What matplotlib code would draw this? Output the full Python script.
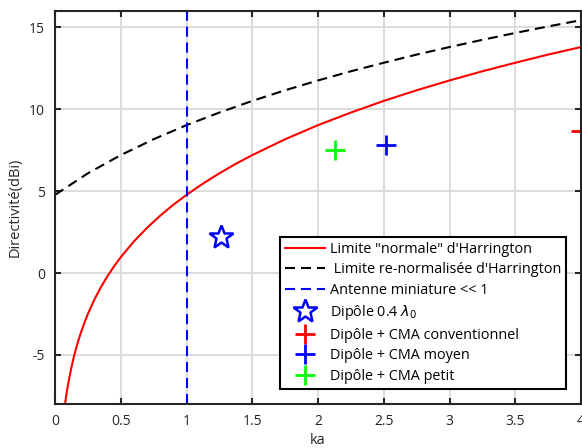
import numpy as np
import matplotlib
matplotlib.use('Agg')
import matplotlib.pyplot as plt

plt.rcParams['font.family'] = ['Open Sans', 'DejaVu Sans']
plt.rcParams['lines.scale_dashes'] = False
plt.rcParams['axes.unicode_minus'] = False

# Harrington "normal" limit
ka_norm = [0.075, 0.09, 0.1, 0.115, 0.125, 0.14, 0.15, 0.175, 0.2, 0.225, 0.25,
           0.3, 0.35, 0.4, 0.45, 0.5, 0.6, 0.7, 0.8, 0.9, 1.0, 1.125, 1.25,
           1.375, 1.5, 1.75, 2.0, 2.25, 2.5, 2.75, 3.0, 3.25, 3.5, 3.75, 4.0]
d_norm = [-8.08, -7.24, -6.78, -6.15, -5.76, -5.23, -4.91, -4.19, -3.57, -3.01,
          -2.50, -1.61, -0.85, -0.18, 0.42, 0.97, 1.93, 2.76, 3.50, 4.17, 4.77,
          5.46, 6.09, 6.67, 7.20, 8.17, 9.03, 9.80, 10.51, 11.16, 11.76, 12.32,
          12.84, 13.34, 13.80]

# Harrington re-normalised limit
ka_renorm = [0.0, 0.25, 0.5, 0.75, 1.0, 1.25, 1.5, 1.75, 2.0, 2.25, 2.5, 2.75,
             3.0, 3.25, 3.5, 3.75, 4.0]
d_renorm = [4.77, 6.09, 7.20, 8.17, 9.03, 9.80, 10.51, 11.16, 11.76, 12.32,
            12.84, 13.34, 13.80, 14.24, 14.66, 15.06, 15.44]

# miniature antenna boundary
ka_mini = [1.0, 1.0]
d_mini = [-8, 16]

# measured / simulated antennas
ka_dipole, d_dipole = 1.26, 2.2
ka_conv, d_conv = 4.0, 8.7
ka_moyen, d_moyen = 2.52, 7.8
ka_petit, d_petit = 2.13, 7.5

fig = plt.figure(figsize=(5.82, 4.48), dpi=100)
ax = fig.add_axes([0.0945, 0.0982, 0.9038, 0.8772])

ax.plot(ka_norm, d_norm, color='red', lw=1.5, label='Limite "normale" d\'Harrington')
ax.plot(ka_renorm, d_renorm, color='black', lw=1.5, dashes=(7.2, 4.3),
        label=' Limite re-normalisée d\'Harrington')
ax.plot(ka_mini, d_mini, color='blue', lw=1.5, dashes=(7.2, 4.3),
        label='Antenne miniature << 1')
ax.plot([ka_dipole], [d_dipole], ls='none', marker='*', ms=18, mfc='none',
        mec='blue', mew=1.8, label='Dipôle 0.4 $\\lambda_0$')
ax.plot([ka_conv], [d_conv], ls='none', marker='+', ms=15, mew=2,
        color='red', label='Dipôle + CMA conventionnel')
ax.plot([ka_moyen], [d_moyen], ls='none', marker='+', ms=15, mew=2,
        color='blue', label='Dipôle + CMA moyen')
ax.plot([ka_petit], [d_petit], ls='none', marker='+', ms=15, mew=2,
        color='#00ff00', label='Dipôle + CMA petit')

ax.set_xlim(0, 4)
ax.set_ylim(-8, 16)
ax.set_xticks([0, 0.5, 1, 1.5, 2, 2.5, 3, 3.5, 4])
ax.set_xticklabels(['0', '0.5', '1', '1.5', '2', '2.5', '3', '3.5', '4'])
ax.set_yticks([-5, 0, 5, 10, 15])
ax.grid(True, color='#d9d9d9', lw=1.3)
ax.set_axisbelow(True)
ax.tick_params(direction='in', top=True, right=True, length=4, width=1.5,
               labelsize=10, colors='#262626', pad=7)
for s in ax.spines.values():
    s.set_linewidth(1.5)
    s.set_color('#262626')

ax.set_xlabel('ka', fontsize=10.5, color='#262626', labelpad=3)
ax.set_ylabel('Directivité(dBi)', fontsize=10.5, color='#262626', labelpad=5)

leg = ax.legend(loc='upper left', bbox_to_anchor=(0.428, 0.4257), fontsize=10.4,
                handlelength=2.75, handletextpad=0.35, borderpad=0.35,
                labelspacing=0.38, borderaxespad=0, fancybox=False,
                framealpha=1, edgecolor='black')
leg.get_frame().set_linewidth(1.5)

fig.savefig('out.png', dpi=100)
